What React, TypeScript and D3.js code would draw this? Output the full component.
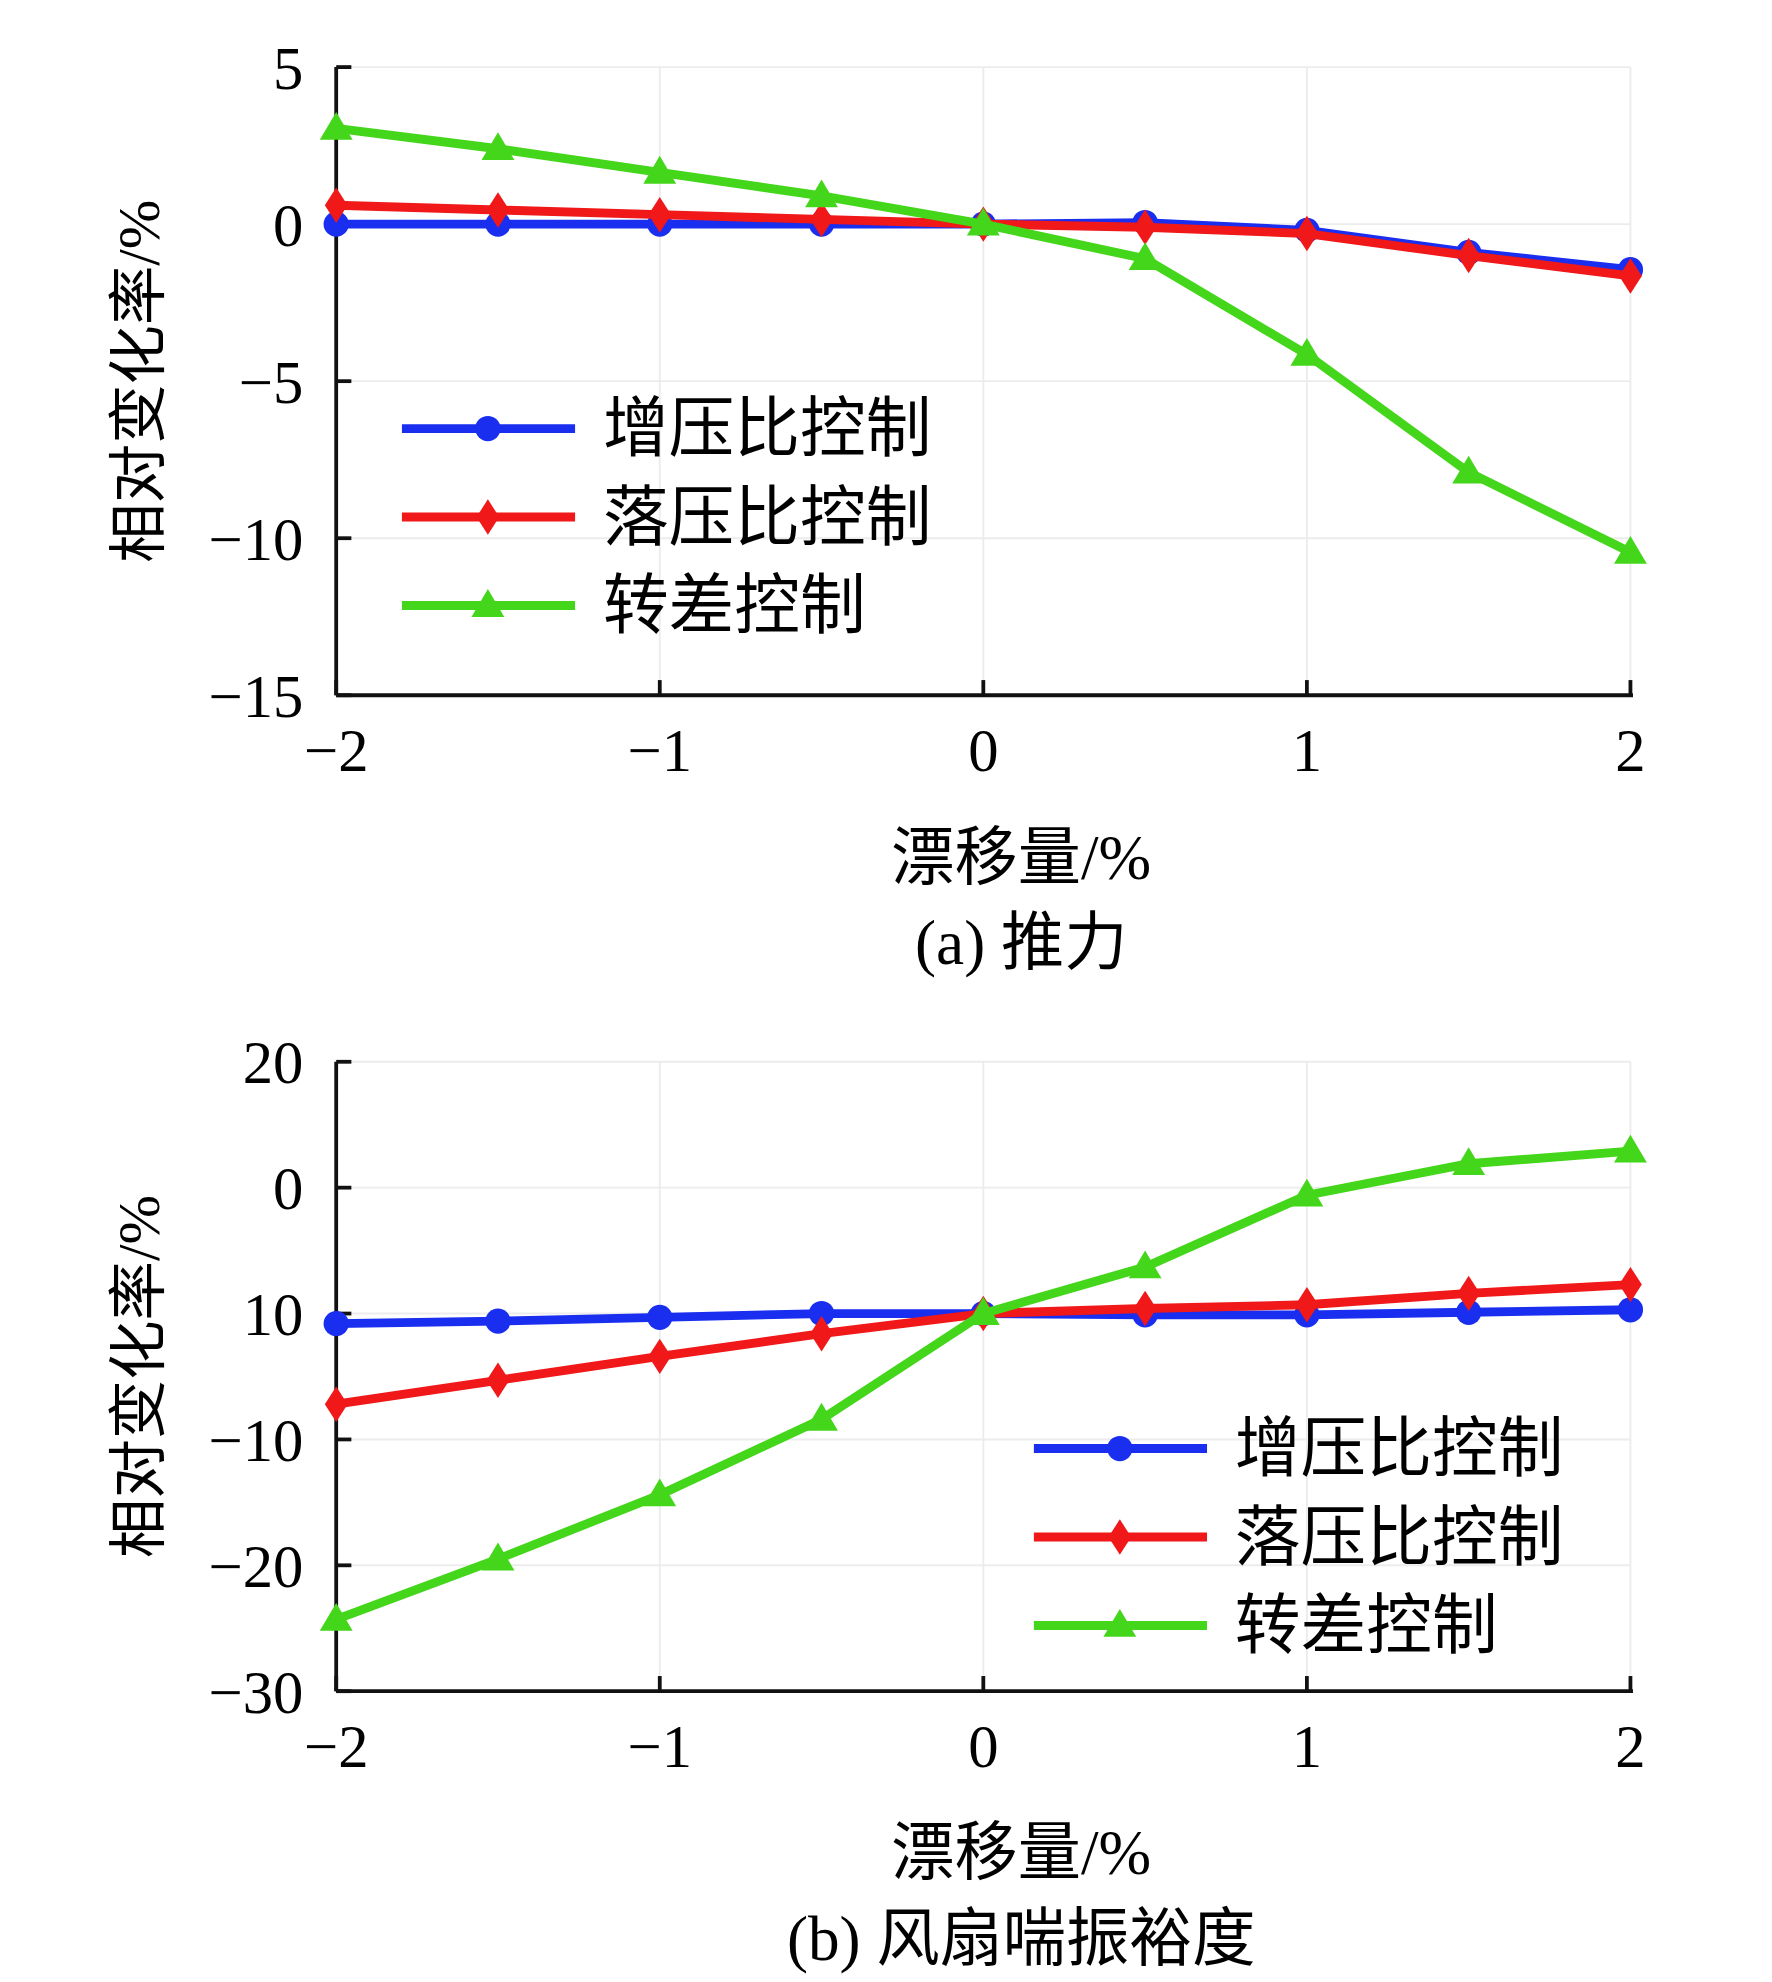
import * as d3 from "d3";

const drift = [-2, -1.5, -1, -0.5, 0, 0.5, 1, 1.5, 2];
const xTicks = [-2, -1, 0, 1, 2];
const seriesNames = ["增压比控制", "落压比控制", "转差控制"];
const colors = ["#1a2ef0", "#f01818", "#44d61a"];
const markers = ["circle", "diamond", "triangle"];

const thrustBlue = [0, 0, 0, 0, 0, 0.05, -0.2, -0.9, -1.45];
const thrustRed = [0.6, 0.45, 0.3, 0.15, 0, -0.1, -0.3, -1.0, -1.65];
const thrustGreen = [3.05, 2.4, 1.65, 0.9, 0, -1.1, -4.15, -7.9, -10.45];
const thrustTicks = [5, 0, -5, -10, -15];
const thrustTickLabels = ["5", "0", "−5", "−10", "−15"];

const surgeBlue = [-0.8, -0.6, -0.3, 0, 0, -0.1, -0.1, 0.1, 0.3];
const surgeRed = [-7.2, -5.3, -3.4, -1.6, 0, 0.4, 0.7, 1.6, 2.3];
const surgeGreen = [-24.3, -19.5, -14.4, -8.4, 0, 3.7, 9.4, 11.9, 12.9];
const surgeTicks = [20, 10, 0, -10, -20, -30];
const surgeTickLabels = ["20", "0", "10", "−10", "−20", "−30"];

const FONT = "'Liberation Serif', 'Noto Sans CJK SC', serif";

function Marker({ kind, x, y, color }: { kind: string; x: number; y: number; color: string }) {
  if (kind === "circle") return <circle cx={x} cy={y} r={10} fill={color} />;
  if (kind === "diamond")
    return <path d={`M${x},${y - 14} L${x + 9},${y} L${x},${y + 14} L${x - 9},${y} Z`} fill={color} />;
  return <path d={`M${x},${y - 13} L${x + 13},${y + 9} L${x - 13},${y + 9} Z`} fill={color} />;
}

function Panel({
  top, bottom, domain, ticks, tickLabels, series, legendX, legendY, caption,
}: {
  top: number; bottom: number; domain: [number, number]; ticks: number[]; tickLabels: string[];
  series: number[][]; legendX: number; legendY: number; caption: string;
}) {
  const x = d3.scaleLinear().domain([-2, 2]).range([266, 1290]);
  const y = d3.scaleLinear().domain(domain).range([bottom, top]);
  const line = d3.line<number>().x((_, i) => x(drift[i])).y((v) => y(v));
  return (
    <g fontFamily={FONT}>
      {xTicks.slice(1).map((t) => (
        <line key={"gx" + t} x1={x(t)} x2={x(t)} y1={top} y2={bottom} stroke="#ececec" strokeWidth={1.5} />
      ))}
      {ticks.slice(0, -1).map((t) => (
        <line key={"gy" + t} x1={266} x2={1290} y1={y(t)} y2={y(t)} stroke="#ececec" strokeWidth={1.5} />
      ))}
      <line x1={266} x2={266} y1={top} y2={bottom} stroke="#111" strokeWidth={3} />
      <line x1={266} x2={1292} y1={bottom} y2={bottom} stroke="#111" strokeWidth={3} />
      {ticks.map((t, i) => (
        <g key={"ty" + t}>
          <line x1={266} x2={278} y1={y(t)} y2={y(t)} stroke="#111" strokeWidth={3} />
          <text x={240} y={y(t) + 17} fontSize={48} textAnchor="end">{tickLabels[i]}</text>
        </g>
      ))}
      {xTicks.map((t) => (
        <g key={"tx" + t}>
          <line x1={x(t)} x2={x(t)} y1={bottom} y2={bottom - 12} stroke="#111" strokeWidth={3} />
          <text x={x(t)} y={bottom + 60} fontSize={48} textAnchor="middle">{t < 0 ? "−" + -t : t}</text>
        </g>
      ))}
      <text transform={`translate(126,${(top + bottom) / 2}) rotate(-90)`} fontSize={47} textAnchor="middle">相对变化率/%</text>
      <text x={808} y={bottom + 145} fontSize={50} textAnchor="middle">漂移量/%</text>
      <text x={808} y={bottom + 213} fontSize={50} textAnchor="middle">{caption}</text>
      {series.map((s, k) => (
        <g key={"s" + k}>
          <path d={line(s) ?? ""} fill="none" stroke={colors[k]} strokeWidth={7} />
          {s.map((v, i) => <Marker key={i} kind={markers[k]} x={x(drift[i])} y={y(v)} color={colors[k]} />)}
        </g>
      ))}
      {seriesNames.map((n, k) => {
        const ly = legendY + k * 70;
        return (
          <g key={"l" + k}>
            <line x1={legendX} x2={legendX + 137} y1={ly} y2={ly} stroke={colors[k]} strokeWidth={7} />
            <Marker kind={markers[k]} x={legendX + 68} y={ly} color={colors[k]} />
            <text x={legendX + 159} y={ly + 18} fontSize={52}>{n}</text>
          </g>
        );
      })}
    </g>
  );
}

export default function App() {
  return (
    <svg width={1772} height={1982} viewBox="0 0 1402 1568"
      style={{ position: "absolute", left: 0, top: 0, background: "#fff" }}>
      <rect width={1402} height={1568} fill="#fff" />
      <Panel top={53} bottom={550} domain={[-15, 5]} ticks={thrustTicks} tickLabels={thrustTickLabels}
        series={[thrustBlue, thrustRed, thrustGreen]} legendX={318} legendY={339} caption="(a) 推力" />
      <Panel top={840} bottom={1338} domain={[-30, 20]} ticks={surgeTicks} tickLabels={surgeTickLabels}
        series={[surgeBlue, surgeRed, surgeGreen]} legendX={818} legendY={1146} caption="(b) 风扇喘振裕度" />
    </svg>
  );
}
